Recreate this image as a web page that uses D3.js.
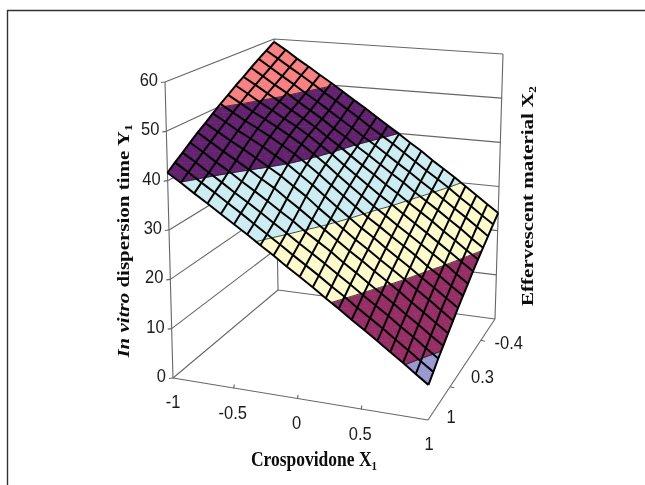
<!DOCTYPE html>
<html><head><meta charset="utf-8">
<script src="https://cdn.jsdelivr.net/npm/d3@7"></script>
<style>html,body{margin:0;padding:0;background:#fff}svg{display:block}</style>
</head><body><svg id="c" width="645" height="485"></svg>
<script>
const xCategories = d3.range(21).map(i => -1 + i * 0.1);
const xTickLabels = ["-1", "-0.5", "0", "0.5", "1"];
const xTickValues = [-1, -0.5, 0, 0.5, 1];
const depthLabels = ["1", "0.3", "-0.4"];
const zTicks = [0, 10, 20, 30, 40, 50, 60];
const bandLevels = [0, 10, 20, 30, 40, 50, 60];
const bandColors = ["#9a98d0", "#962d66", "#fdfbcc", "#ccecf2", "#62206e", "#f98080"];
// Y1 at each mesh node: one row per series (X2 = 1 at the front to X2 = -0.4 at the back), one column per X1
const surfaceRows = [
[41.6,39.9,38.1,36.4,34.6,32.9,31.2,29.4,27.7,25.9,24.2,22.5,20.7,19.0,17.2,15.5,13.8,12.0,10.3,8.5,6.8],
[42.9,41.2,39.4,37.7,35.9,34.2,32.4,30.6,28.9,27.1,25.4,23.7,21.9,20.2,18.4,16.7,15.0,13.2,11.5,9.7,8.0],
[44.1,42.4,40.6,38.9,37.1,35.4,33.7,31.9,30.2,28.4,26.7,25.0,23.2,21.5,19.7,18.0,16.3,14.5,12.8,11.0,9.3],
[45.4,43.7,41.9,40.3,38.5,36.8,35.1,33.3,31.6,29.7,28.0,26.3,24.4,22.7,20.9,19.2,17.5,15.7,14.0,12.2,10.5],
[46.7,45.0,43.3,41.7,40.1,38.4,36.8,34.9,33.1,31.2,29.4,27.5,25.7,24.0,22.2,20.5,18.8,16.9,15.2,13.4,11.7],
[47.9,46.3,44.7,43.2,41.6,40.0,38.4,36.5,34.7,32.6,30.7,28.8,26.9,25.2,23.4,21.7,20.0,18.2,16.5,14.7,12.9],
[49.2,47.6,46.0,44.6,43.1,41.5,39.9,38.0,36.1,34.0,32.0,30.1,28.2,26.5,24.6,22.9,21.2,19.4,17.7,15.9,14.2],
[50.5,48.9,47.3,45.9,44.4,42.8,41.2,39.3,37.4,35.3,33.3,31.3,29.4,27.7,25.9,24.2,22.5,20.6,18.9,17.1,15.4],
[51.7,50.1,48.5,47.1,45.6,44.0,42.4,40.5,38.6,36.5,34.5,32.6,30.6,28.9,27.1,25.4,23.7,21.9,20.2,18.3,16.6],
[53.0,51.4,49.7,48.2,46.6,45.1,43.4,41.5,39.7,37.6,35.7,33.8,31.9,30.2,28.4,26.6,24.9,23.1,21.4,19.6,17.9],
[54.2,52.6,50.9,49.3,47.6,46.0,44.3,42.4,40.6,38.7,36.8,35.0,33.1,31.4,29.6,27.9,26.2,24.3,22.6,20.8,19.1],
[55.5,53.8,52.0,50.4,48.6,46.9,45.2,43.3,41.6,39.7,38.0,36.2,34.4,32.7,30.8,29.1,27.4,25.6,23.9,22.0,20.3],
[56.8,55.0,53.2,51.5,49.7,48.0,46.2,44.4,42.7,40.9,39.2,37.4,35.6,33.9,32.1,30.4,28.6,26.8,25.1,23.3,21.5],
[58.0,56.3,54.5,52.8,51.0,49.2,47.5,45.7,44.0,42.1,40.4,38.7,36.9,35.1,33.3,31.6,29.9,28.0,26.3,24.5,22.8],
[59.3,57.6,55.7,54.0,52.2,50.5,48.7,46.9,45.2,43.4,41.6,39.9,38.1,36.4,34.5,32.8,31.1,29.3,27.5,25.7,24.0]
];

// box corners on screen, [floor, top]; u = X1 left to right, v = front to back
const corners = {
  fl: [[173,378],[165,82]], fr: [[428,420],[432,110]],
  bl: [[278,290],[274,39]], br: [[495,319],[503,54]]
};
const uScale = d3.scaleLinear().domain([-1, 1]).range([0, 1]);
const vScale = d3.scaleLinear().domain([0, surfaceRows.length - 1]).range([0, 1]);
const wScale = d3.scaleLinear().domain([0, 60]).range([0, 1]);
const lerp = (a, b, t) => [a[0] + (b[0] - a[0]) * t, a[1] + (b[1] - a[1]) * t];
function project(u, v, w) {
  const lv = k => lerp(lerp(corners.fl[k], corners.fr[k], u), lerp(corners.bl[k], corners.br[k], u), v);
  return lerp(lv(0), lv(1), w);
}
const P = (x, r, z) => project(uScale(x), vScale(r), wScale(z));
const lastRow = surfaceRows.length - 1;

const defs = d3.select("#c").append("defs");
defs.append("filter").attr("id", "soft").append("feGaussianBlur").attr("stdDeviation", 0.4);
const svg = d3.select("#c").append("g").attr("filter", "url(#soft)");
svg.append("rect").attr("width", 645).attr("height", 485).attr("fill", "#fff");
const line = d3.line();
svg.append("path").attr("d", "M7.5,485V10.5H645").attr("fill", "none").attr("stroke", "#333").attr("stroke-width", 1.4);

// walls and floor
const wallG = svg.append("g").attr("fill", "none").attr("stroke", "#666").attr("stroke-width", 1.1);
const segs = [
  [[0,0,0],[0,0,1]], [[0,1,0],[0,1,1]], [[1,1,0],[1,1,1]],
  [[0,0,0],[1,0,0]], [[1,0,0],[1,1,0]], [[1,1,0],[0,1,0]], [[0,1,0],[0,0,0]]
];
segs.forEach(s => wallG.append("path").attr("d", line(s.map(p => project(...p)))));
zTicks.slice(1).forEach(z => {
  const w = wScale(z);
  wallG.append("path").attr("d", line([project(0,0,w), project(0,1,w), project(1,1,w)]));
});
zTicks.forEach(z => {
  const p = project(0,0,wScale(z));
  wallG.append("path").attr("d", line([[p[0]-4,p[1]+0.5],p]));
});
xTickValues.slice(1,-1).forEach(x => {
  const p = project(uScale(x),0,0);
  wallG.append("path").attr("d", line([[p[0]-3,p[1]],[p[0]-2.5,p[1]-4]]));
});
[0.33, 0.79].forEach(f => {
  const p = project(1,f,0);
  wallG.append("path").attr("d", line([p,[p[0]+4,p[1]+1]]));
});

// surface bands
function clip(poly, lo, hi) {
  const cut = (pts, lev, keepAbove) => {
    const out = [];
    pts.forEach((a, i) => {
      const b = pts[(i + 1) % pts.length];
      const ia = keepAbove ? a[2] >= lev : a[2] <= lev;
      const ib = keepAbove ? b[2] >= lev : b[2] <= lev;
      if (ia) out.push(a);
      if (ia !== ib) {
        const t = (lev - a[2]) / (b[2] - a[2]);
        out.push([a[0] + (b[0] - a[0]) * t, a[1] + (b[1] - a[1]) * t, lev]);
      }
    });
    return out;
  };
  return cut(cut(poly, lo, true), hi, false);
}
const toScreen = p => P(p[0], p[1], p[2]);
const bandG = svg.append("g");
const contourG = svg.append("g").attr("fill", "none").attr("stroke", "#1a1a1a").attr("stroke-width", 0.8);
const meshG = svg.append("g").attr("fill", "none").attr("stroke", "#050505").attr("stroke-width", 2).attr("stroke-linejoin", "round");
for (let r = 0; r < lastRow; r++) for (let c = 0; c < xCategories.length - 1; c++) {
  const x0 = xCategories[c], x1 = xCategories[c + 1];
  const zm = (surfaceRows[r][c] + surfaceRows[r][c+1] + surfaceRows[r+1][c] + surfaceRows[r+1][c+1]) / 4;
  const A = [x0, r, surfaceRows[r][c]], B = [x1, r, surfaceRows[r][c+1]],
        C = [x1, r+1, surfaceRows[r+1][c+1]], D = [x0, r+1, surfaceRows[r+1][c]],
        M = [(x0+x1)/2, r+.5, zm];
  [[A,B,M],[B,C,M],[C,D,M],[D,A,M]].forEach(tri => {
    bandColors.forEach((col, b) => {
      const lo = bandLevels[b], hi = bandLevels[b+1];
      const poly = clip(tri, lo, hi);
      if (poly.length < 3) return;
      bandG.append("path").attr("d", line(poly.map(toScreen)) + "Z").attr("fill", col).attr("stroke", col).attr("stroke-width", 0.6);
      poly.forEach((a, i) => {
        const n = poly[(i+1)%poly.length];
        if (a[2] === n[2] && a[2] === lo && lo > 0)
          contourG.append("path").attr("d", line([toScreen(a), toScreen(n)]));
      });
    });
  });
}
surfaceRows.forEach((row, r) => meshG.append("path").attr("d", line(row.map((z, c) => P(xCategories[c], r, z)))));
xCategories.forEach((x, c) => meshG.append("path").attr("d", line(surfaceRows.map((row, r) => P(x, r, row[c])))));

// text: the picture is stretched vertically, so glyphs are scaled along screen y
const tickFont = "'Liberation Sans',Arial,sans-serif";
const titleFont = "'Liberation Serif','Times New Roman',serif";
const tG = svg.append("g").attr("font-family", tickFont).attr("font-size", 16.5).attr("fill", "#1a1a1a").attr("text-anchor", "middle");
const placeTick = (x, y, s, anchor) => tG.append("text").attr("transform", `translate(${x},${y}) scale(1,1.15)`).attr("text-anchor", anchor || "middle").text(s);
zTicks.forEach(z => {
  const p = project(0,0,wScale(z));
  placeTick(p[0]-7, p[1]+4, z, "end");
});
const xDx = [0, -4, -4, -4, 1];
xTickValues.forEach((x,i) => {
  const p = project(uScale(x),0,0);
  placeTick(p[0]+xDx[i], p[1]+30, xTickLabels[i]);
});
const depthOff = [[12,20],[21,13],[25,13]];
depthLabels.forEach((d,i) => {
  const p = project(1,(i+.5)/depthLabels.length,0);
  placeTick(p[0]+depthOff[i][0], p[1]+depthOff[i][1], d);
});
const title = svg.append("g").attr("font-family", titleFont).attr("font-size", 17.5).attr("font-weight", "bold").attr("fill", "#0a0a0a").attr("text-anchor", "middle");
const xT = title.append("text").attr("transform", "translate(314,466) scale(1,1.2)");
xT.append("tspan").text("Crospovidone X");
xT.append("tspan").attr("font-size", 11).attr("dy", 3).text("1");
const yT = title.append("text").attr("transform", "translate(129,241) rotate(-90) scale(1.2,1)");
yT.append("tspan").attr("font-style", "italic").text("In vitro");
yT.append("tspan").text(" dispersion time Y");
yT.append("tspan").attr("font-size", 11).attr("dy", 3).text("1");
const zT = title.append("text").attr("transform", "translate(533,196) rotate(-90) scale(1.2,1)");
zT.append("tspan").text("Effervescent material X");
zT.append("tspan").attr("font-size", 11).attr("dy", 3).text("2");
</script></body></html>
